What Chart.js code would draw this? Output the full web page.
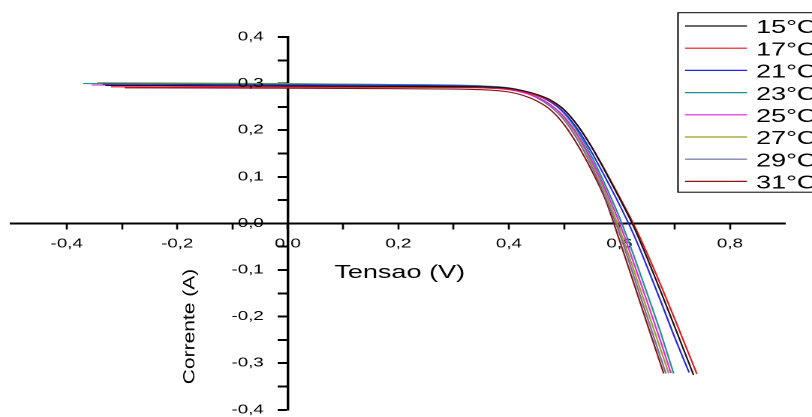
<!DOCTYPE html>
<html>
<head>
<meta charset="utf-8">
<script src="https://cdn.jsdelivr.net/npm/chart.js@4.4.0/dist/chart.umd.min.js"></script>
<style>
  html, body { margin: 0; padding: 0; background: #fff; overflow: hidden; }
  /* the original figure is stretched sideways, so the chart is drawn narrow and widened */
  #wrap { width: 541px; height: 420px; transform: scaleX(1.5009); transform-origin: 0 0; }
</style>
</head>
<body>
<div id="wrap"><canvas id="ivChart"></canvas></div>
<script>
// series labels and colours
const seriesLabels = ['15°C', '17°C', '21°C', '23°C', '25°C', '27°C', '29°C', '31°C'];
const seriesColors = ['#111111', '#e81418', '#2222ee', '#1a9090', '#e020e0', '#9a9a22', '#6a6aa4', '#8a1212'];

// voltage (V) and current (A), one pair per temperature
const v15 = [-0.33, 0, 0.2, 0.35, 0.4, 0.425, 0.45, 0.475, 0.5, 0.525, 0.55, 0.575, 0.6, 0.625, 0.65, 0.675, 0.7, 0.734];
const i15 = [0.296, 0.295, 0.294, 0.293, 0.290, 0.285, 0.277, 0.265, 0.244, 0.209, 0.163, 0.110, 0.054, -0.005, -0.074, -0.147, -0.222, -0.325];

const v17 = [-0.32, 0, 0.2, 0.35, 0.4, 0.425, 0.45, 0.475, 0.5, 0.525, 0.55, 0.575, 0.6, 0.625, 0.65, 0.675, 0.7, 0.74];
const i17 = [0.293, 0.292, 0.292, 0.291, 0.288, 0.283, 0.275, 0.263, 0.243, 0.209, 0.164, 0.112, 0.057, 0.0, -0.064, -0.133, -0.205, -0.323];

const v21 = [-0.335, 0, 0.2, 0.35, 0.4, 0.425, 0.45, 0.475, 0.5, 0.525, 0.55, 0.575, 0.6, 0.625, 0.65, 0.675, 0.7, 0.726];
const i21 = [0.299, 0.297, 0.296, 0.294, 0.290, 0.284, 0.275, 0.261, 0.238, 0.201, 0.152, 0.097, 0.040, -0.022, -0.093, -0.168, -0.245, -0.32];

const v23 = [-0.37, 0, 0.2, 0.35, 0.4, 0.425, 0.45, 0.475, 0.5, 0.525, 0.55, 0.575, 0.6, 0.625, 0.65, 0.675, 0.698];
const i23 = [0.300, 0.299, 0.298, 0.295, 0.291, 0.285, 0.276, 0.261, 0.236, 0.196, 0.143, 0.081, 0.013, -0.066, -0.150, -0.236, -0.322];

const v25 = [-0.355, 0, 0.2, 0.35, 0.4, 0.425, 0.45, 0.475, 0.5, 0.525, 0.55, 0.575, 0.6, 0.625, 0.65, 0.675, 0.693];
const i25 = [0.297, 0.294, 0.293, 0.291, 0.287, 0.281, 0.271, 0.255, 0.229, 0.189, 0.135, 0.072, 0.001, -0.082, -0.168, -0.255, -0.321];

const v27 = [-0.345, 0, 0.2, 0.35, 0.4, 0.425, 0.45, 0.475, 0.5, 0.525, 0.55, 0.575, 0.6, 0.625, 0.65, 0.675, 0.689];
const i27 = [0.302, 0.300, 0.298, 0.295, 0.290, 0.283, 0.272, 0.255, 0.227, 0.185, 0.130, 0.064, -0.012, -0.097, -0.185, -0.272, -0.322];

const v29 = [-0.34, 0, 0.2, 0.35, 0.4, 0.425, 0.45, 0.475, 0.5, 0.525, 0.55, 0.575, 0.6, 0.625, 0.65, 0.675, 0.684];
const i29 = [0.300, 0.298, 0.297, 0.294, 0.289, 0.282, 0.270, 0.251, 0.222, 0.178, 0.122, 0.055, -0.021, -0.110, -0.200, -0.290, -0.322];

const v31 = [-0.295, 0, 0.2, 0.35, 0.4, 0.425, 0.45, 0.475, 0.5, 0.525, 0.55, 0.575, 0.6, 0.625, 0.65, 0.675, 0.68];
const i31 = [0.291, 0.290, 0.289, 0.287, 0.282, 0.275, 0.263, 0.244, 0.212, 0.167, 0.113, 0.050, -0.036, -0.125, -0.215, -0.304, -0.322];

// tick values
const xMajor = [-0.4, -0.2, 0, 0.2, 0.4, 0.6, 0.8];
const xMinor = [-0.3, -0.1, 0.1, 0.3, 0.5, 0.7];
const yMajor = [-0.4, -0.3, -0.2, -0.1, 0, 0.1, 0.2, 0.3, 0.4];
const yMinor = [-0.35, -0.25, -0.15, -0.05, 0.05, 0.15, 0.25, 0.35];

const xTitle = 'Tensao (V)';
const yTitle = 'Corrente (A)';

const volts = [v15, v17, v21, v23, v25, v27, v29, v31];
const amps = [i15, i17, i21, i23, i25, i27, i29, i31];

const datasets = seriesLabels.map(function (label, k) {
    return {
        label: label,
        data: volts[k].map(function (v, j) { return {x: v, y: amps[k][j]}; }),
        borderColor: seriesColors[k],
        backgroundColor: seriesColors[k],
        borderWidth: 1.1,
        pointRadius: 0,
        cubicInterpolationMode: 'monotone',
        fill: false
    };
});

const labelFont = '12.5px "Liberation Sans", Arial, sans-serif';

function commaLabel(v) {
    return v.toFixed(1).replace('.', ',');
}

function setTicks(major, minor) {
    return function (scale) {
        scale.ticks = major.concat(minor).sort(function (a, b) { return a - b; })
            .map(function (v) { return {value: v}; });
    };
}

// y tick labels (chart.js puts them on top of a centred axis), legend box and axis titles
const extrasPlugin = {
    id: 'extras',
    afterDraw: function (chart) {
        const ctx = chart.ctx;
        const xs = chart.scales.x;
        const ys = chart.scales.y;
        ctx.save();

        ctx.font = labelFont;
        ctx.fillStyle = '#000';
        ctx.textAlign = 'right';
        ctx.textBaseline = 'middle';
        const axisX = xs.getPixelForValue(0);
        yMajor.forEach(function (v) {
            ctx.fillText(commaLabel(v), axisX - 16, ys.getPixelForValue(v));
        });

        ctx.strokeStyle = '#000';
        ctx.lineWidth = 1;
        ctx.strokeRect(451.7, 12.7, 200, 179.5);
        ctx.font = '18px "Liberation Sans", Arial, sans-serif';
        ctx.textBaseline = 'alphabetic';
        ctx.textAlign = 'left';
        chart.data.datasets.forEach(function (ds, k) {
            const y = 26 + k * 22.2;
            ctx.strokeStyle = ds.borderColor;
            ctx.lineWidth = 1.2;
            ctx.beginPath();
            ctx.moveTo(456.4, y);
            ctx.lineTo(497.7, y);
            ctx.stroke();
            ctx.fillText(ds.label, 503.7, y + 7.2);
        });

        // x title
        ctx.textAlign = 'center';
        ctx.fillText(xTitle, 266.3, 278);

        // y title, rotated and narrowed like the original
        ctx.translate(126.6, 326.5);
        ctx.scale(0.54, 1);
        ctx.rotate(-Math.PI / 2);
        ctx.font = '21px "Liberation Sans", Arial, sans-serif';
        ctx.textBaseline = 'middle';
        ctx.fillText(yTitle, 0, 0);
        ctx.restore();
    }
};

const ctx = document.getElementById('ivChart').getContext('2d');
const ivChart = new Chart(ctx, {
    type: 'line',
    data: {datasets: datasets},
    plugins: [extrasPlugin],
    options: {
        responsive: true,
        maintainAspectRatio: false,
        animation: false,
        devicePixelRatio: 2,
        layout: {padding: {left: 7.6, right: 17.8, top: 37, bottom: 0}},
        plugins: {
            legend: {display: false},
            tooltip: {enabled: false}
        },
        scales: {
            x: {
                type: 'linear',
                position: {y: 0},
                min: -0.5,
                max: 0.9,
                afterBuildTicks: setTicks(xMajor, xMinor),
                grid: {
                    display: true,
                    drawOnChartArea: false,
                    drawTicks: true,
                    tickLength: 5,
                    tickWidth: 1.3,
                    tickColor: '#000'
                },
                border: {display: true, color: '#000', width: 2},
                ticks: {
                    autoSkip: false,
                    maxRotation: 0,
                    padding: 8,
                    color: '#000',
                    font: {family: '"Liberation Sans", Arial, sans-serif', size: 12.5},
                    callback: function (value) {
                        return xMajor.includes(value) ? commaLabel(value) : '';
                    }
                }
            },
            y: {
                type: 'linear',
                position: {x: 0},
                min: -0.4,
                max: 0.4,
                afterBuildTicks: setTicks(yMajor, yMinor),
                grid: {
                    display: true,
                    drawOnChartArea: false,
                    drawTicks: true,
                    tickLength: 6,
                    tickWidth: 2,
                    tickColor: '#000'
                },
                border: {display: true, color: '#000', width: 1.7},
                ticks: {
                    autoSkip: false,
                    callback: function () { return ''; }
                }
            }
        }
    }
});
</script>
</body>
</html>
